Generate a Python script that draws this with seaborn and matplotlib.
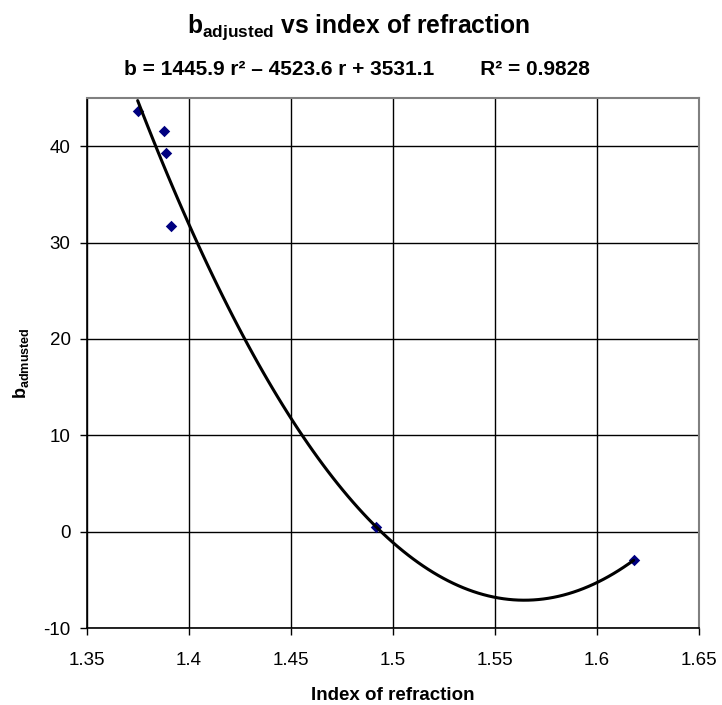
import pandas as pd
import seaborn as sns
import matplotlib.pyplot as plt

# waarden
brekingsindex = [1.375, 1.3877, 1.389, 1.3915, 1.4918, 1.618]
b_adjusted = [43.6, 41.6, 39.3, 31.7, 0.5, -2.95]

x_ticks = [1.35, 1.4, 1.45, 1.5, 1.55, 1.6, 1.65]
x_tick_labels = ["1.35", "1.4", "1.45", "1.5", "1.55", "1.6", "1.65"]
y_ticks = [-10, 0, 10, 20, 30, 40]
y_tick_labels = ["-10", "0", "10", "20", "30", "40"]

titel = r"b$_{\mathbf{adjusted}}$ vs index of refraction"
vergelijking = "b = 1445.9 r\u00b2 \u2013 4523.6 r + 3531.1        R\u00b2 = 0.9828"

sns.set_theme(style="white")
plt.rcParams["font.family"] = ["Liberation Sans", "DejaVu Sans"]
plt.rcParams["mathtext.fontset"] = "custom"
plt.rcParams["mathtext.rm"] = "Liberation Sans"
plt.rcParams["mathtext.bf"] = "Liberation Sans:bold"
# zwarte tekst zoals in Excel, seaborn zet dit op donkergrijs
for sleutel in ["text.color", "axes.labelcolor", "xtick.color", "ytick.color"]:
    plt.rcParams[sleutel] = "black"

df = pd.DataFrame({"index": brekingsindex, "b": b_adjusted})

fig, ax = plt.subplots(figsize=(7.22, 7.05), dpi=100)
fig.subplots_adjust(left=0.120, right=0.968, top=0.861, bottom=0.109)

# tweedegraads trendlijn zoals in Excel
sns.regplot(data=df, x="index", y="b", order=2, ci=None, ax=ax, marker="D",
            scatter_kws={"color": "#000080", "s": 34, "alpha": 1, "linewidths": 0, "zorder": 3},
            line_kws={"color": "black", "linewidth": 2.2, "zorder": 4})

ax.set_xlim(1.35, 1.65)
ax.set_ylim(-10, 45)
ax.set_xticks(x_ticks)
ax.set_xticklabels(x_tick_labels)
ax.set_yticks(y_ticks)
ax.set_yticklabels(y_tick_labels)
ax.tick_params(axis="both", labelsize=13.5, length=5, width=1, color="black",
               labelcolor="black", direction="out", left=True, bottom=True)
ax.tick_params(axis="x", pad=12)
ax.tick_params(axis="y", pad=6.5)
ax.grid(True, color="black", linewidth=1)
ax.set_axisbelow(True)
for kant in ["left", "bottom"]:
    ax.spines[kant].set_color("black")
    ax.spines[kant].set_linewidth(1.2)
for kant in ["top", "right"]:
    ax.spines[kant].set_color("#808080")
    ax.spines[kant].set_linewidth(1.5)

ax.set_xlabel("Index of refraction", fontsize=13.5, fontweight="bold", labelpad=13)
ax.set_ylabel(r"b$_{\mathbf{admusted}}$", fontsize=13, fontweight="bold", labelpad=9)

fig.text(0.496, 0.953, titel, ha="center", va="baseline", fontsize=17.7,
         fontweight="bold", color="black")
fig.text(0.495, 0.894, vergelijking, ha="center", va="baseline", fontsize=15,
         fontweight="bold", color="black")

plt.savefig("out.png", dpi=100)
